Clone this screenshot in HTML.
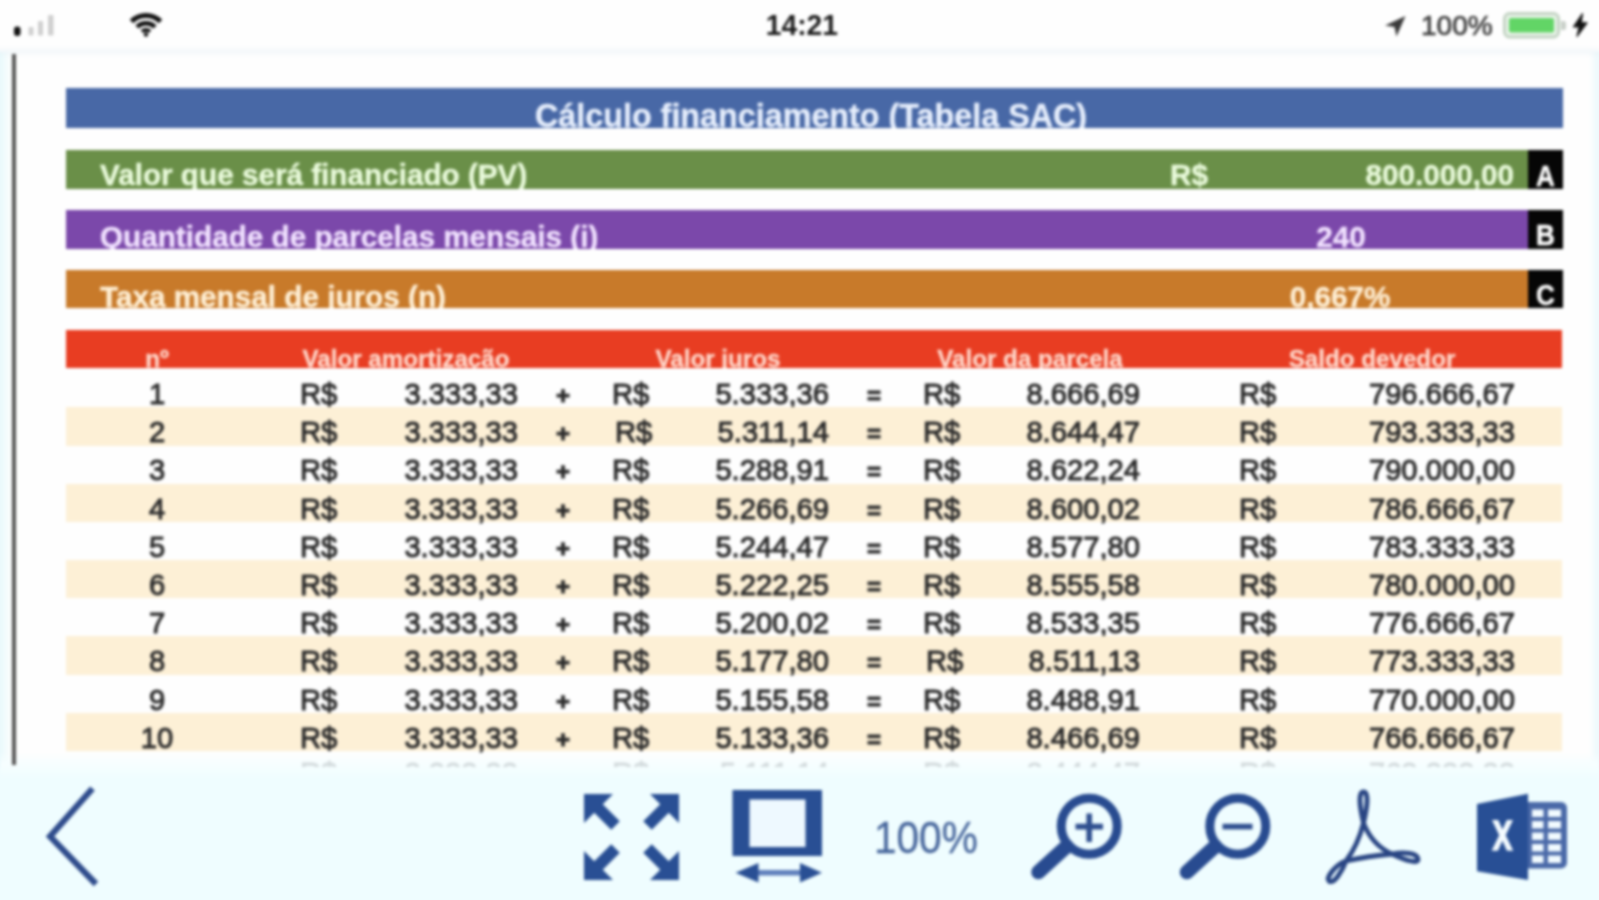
<!DOCTYPE html>
<html lang="pt-BR">
<head>
<meta charset="utf-8">
<title>Cálculo financiamento (Tabela SAC)</title>
<style>
html,body{margin:0;padding:0;}
body{width:1599px;height:900px;overflow:hidden;background:#effdff;font-family:"Liberation Sans",sans-serif;position:relative;}
#stage{position:absolute;left:-20px;top:-20px;width:1639px;height:940px;background:#effdff;filter:blur(1.7px);}
#app{position:absolute;left:20px;top:20px;width:1599px;height:900px;}
.abs{position:absolute;}
/* white sheet area */
#sheet{position:absolute;left:-20px;top:0;width:1639px;height:768px;background:#fefefe;}
#lstrip{position:absolute;left:-20px;top:52px;width:33px;height:716px;background:linear-gradient(to right,#e9f9fc 0,#e9f9fc 20px,#fefefe 32px);}
#rstrip{position:absolute;left:1589px;top:52px;width:30px;height:716px;background:linear-gradient(to right,#fefefe 0,#eef9fc 8px,#ecf9fc 30px);}
#sband{position:absolute;left:-20px;top:45px;width:1639px;height:13px;background:linear-gradient(to bottom,rgba(228,238,244,0),rgba(228,238,244,.38) 50%,rgba(228,238,244,0));}
#statusbg{position:absolute;left:-20px;top:-20px;width:1639px;height:72px;background:#fefefe;}
#vline{position:absolute;left:12px;top:54px;width:4px;height:711px;background:#565656;z-index:4;}
/* status bar */
.st{position:absolute;color:#1a1a1a;font-weight:bold;white-space:nowrap;line-height:1;}
/* coloured bars */
.bar{position:absolute;left:66px;width:1497px;overflow:hidden;color:#f2fbe8;font-weight:bold;font-size:29.7px;-webkit-text-stroke:0.4px currentColor;line-height:1;white-space:nowrap;}
.bar span{position:absolute;white-space:nowrap;}
.tag{position:absolute;right:0;top:0;width:35px;height:100%;background:#060606;}
.tag b{position:absolute;left:0;width:35px;text-align:center;color:#fff;font-size:29px;line-height:1;transform:scaleX(0.9);}
/* table */
#thead{position:absolute;left:66px;top:330px;width:1496px;height:38px;background:#e83d22;overflow:hidden;color:#ffd9cc;font-weight:bold;font-size:24.2px;line-height:1;-webkit-text-stroke:0.3px currentColor;}
#thead span{position:absolute;top:16.5px;white-space:nowrap;transform:translateX(-50%);}
.row{position:absolute;left:66px;width:1496px;height:38.4px;color:#2c2c2c;font-size:29.2px;line-height:1;-webkit-text-stroke:1.0px #2c2c2c;}
.row.alt{background:#fdf0d6;}
.c{position:absolute;top:11px;white-space:nowrap;}
.c.n{left:91px;transform:translateX(-50%);}
.c.op{transform:translateX(-50%);font-size:24px;top:15px;font-weight:bold;}
#toolbar{position:absolute;left:0;top:752px;width:1599px;height:148px;background:linear-gradient(to bottom,rgba(239,253,255,0) 0px,#f6feff 12px,#effdff 26px,#effdff 100%);}
#ghost{position:absolute;left:66px;top:751px;width:1496px;height:15.5px;overflow:hidden;color:#6f767c;font-size:29.2px;line-height:1;opacity:.26;z-index:3;-webkit-text-stroke:0.8px #6f767c;}
#ghost span{position:absolute;top:7.5px;white-space:nowrap;}
</style>
</head>
<body>
<div id="stage"><div id="app">
<div id="sheet"></div>
<div id="lstrip"></div>
<div id="rstrip"></div>
<div id="statusbg"></div>
<div id="sband"></div>
<div id="vline"></div>

<!-- status bar -->
<div class="st" style="left:762.5px;top:9.3px;font-size:30.4px;transform:scaleX(0.93);transform-origin:50% 50%;">14:21</div>
<div class="st" style="left:1421px;top:11.5px;font-size:28px;font-weight:normal;color:#3c3c3c;-webkit-text-stroke:0.7px #3c3c3c;">100%</div>

<!-- title -->
<div class="bar" style="top:88px;height:40px;background:#4868a6;color:#e6eefc;">
  <span style="left:469px;top:11.5px;font-size:32.3px;">Cálculo financiamento (Tabela SAC)</span>
</div>
<!-- A -->
<div class="bar" style="top:150px;height:39px;background:#6a8f48;color:#eafbdc;">
  <span style="left:34px;top:9.8px;">Valor que será financiado (PV)</span>
  <span style="left:1104px;top:9.8px;">R$</span>
  <span style="right:49px;top:9.8px;">800.000,00</span>
  <div class="tag"><b style="top:11.5px;">A</b></div>
</div>
<!-- B -->
<div class="bar" style="top:210px;height:39px;background:#7b48aa;color:#f1e2ff;">
  <span style="left:34px;top:12px;">Quantidade de parcelas mensais (i)</span>
  <span style="left:1275px;top:12px;transform:translateX(-50%);">240</span>
  <div class="tag"><b style="top:11px;">B</b></div>
</div>
<!-- C -->
<div class="bar" style="top:270px;height:38px;background:#c87a2a;color:#fff0d6;">
  <span style="left:34px;top:12px;">Taxa mensal de juros (n)</span>
  <span style="left:1274px;top:12px;transform:translateX(-50%);">0,667%</span>
  <div class="tag"><b style="top:11px;">C</b></div>
</div>

<!-- table header -->
<div id="thead">
  <span style="left:91px;">nº</span>
  <span style="left:340px;">Valor amortização</span>
  <span style="left:652px;">Valor juros</span>
  <span style="left:964px;">Valor da parcela</span>
  <span style="left:1306px;">Saldo devedor</span>
</div>

<div class="row" style="top:369.0px">
<span class="c n">1</span>
<span class="c l" style="left:234px">R$</span><span class="c r" style="right:1044px">3.333,33</span>
<span class="c op" style="left:497px">+</span>
<span class="c l" style="left:546px">R$</span><span class="c r" style="right:733px">5.333,36</span>
<span class="c op" style="left:808px">=</span>
<span class="c l" style="left:857px">R$</span><span class="c r" style="right:422px">8.666,69</span>
<span class="c l" style="left:1173px">R$</span><span class="c r" style="right:47px">796.666,67</span>
</div>
<div class="row alt" style="top:407.2px">
<span class="c n">2</span>
<span class="c l" style="left:234px">R$</span><span class="c r" style="right:1044px">3.333,33</span>
<span class="c op" style="left:497px">+</span>
<span class="c l" style="left:549px">R$</span><span class="c r" style="right:733px">5.311,14</span>
<span class="c op" style="left:808px">=</span>
<span class="c l" style="left:857px">R$</span><span class="c r" style="right:422px">8.644,47</span>
<span class="c l" style="left:1173px">R$</span><span class="c r" style="right:47px">793.333,33</span>
</div>
<div class="row" style="top:445.4px">
<span class="c n">3</span>
<span class="c l" style="left:234px">R$</span><span class="c r" style="right:1044px">3.333,33</span>
<span class="c op" style="left:497px">+</span>
<span class="c l" style="left:546px">R$</span><span class="c r" style="right:733px">5.288,91</span>
<span class="c op" style="left:808px">=</span>
<span class="c l" style="left:857px">R$</span><span class="c r" style="right:422px">8.622,24</span>
<span class="c l" style="left:1173px">R$</span><span class="c r" style="right:47px">790.000,00</span>
</div>
<div class="row alt" style="top:483.6px">
<span class="c n">4</span>
<span class="c l" style="left:234px">R$</span><span class="c r" style="right:1044px">3.333,33</span>
<span class="c op" style="left:497px">+</span>
<span class="c l" style="left:546px">R$</span><span class="c r" style="right:733px">5.266,69</span>
<span class="c op" style="left:808px">=</span>
<span class="c l" style="left:857px">R$</span><span class="c r" style="right:422px">8.600,02</span>
<span class="c l" style="left:1173px">R$</span><span class="c r" style="right:47px">786.666,67</span>
</div>
<div class="row" style="top:521.8px">
<span class="c n">5</span>
<span class="c l" style="left:234px">R$</span><span class="c r" style="right:1044px">3.333,33</span>
<span class="c op" style="left:497px">+</span>
<span class="c l" style="left:546px">R$</span><span class="c r" style="right:733px">5.244,47</span>
<span class="c op" style="left:808px">=</span>
<span class="c l" style="left:857px">R$</span><span class="c r" style="right:422px">8.577,80</span>
<span class="c l" style="left:1173px">R$</span><span class="c r" style="right:47px">783.333,33</span>
</div>
<div class="row alt" style="top:560.0px">
<span class="c n">6</span>
<span class="c l" style="left:234px">R$</span><span class="c r" style="right:1044px">3.333,33</span>
<span class="c op" style="left:497px">+</span>
<span class="c l" style="left:546px">R$</span><span class="c r" style="right:733px">5.222,25</span>
<span class="c op" style="left:808px">=</span>
<span class="c l" style="left:857px">R$</span><span class="c r" style="right:422px">8.555,58</span>
<span class="c l" style="left:1173px">R$</span><span class="c r" style="right:47px">780.000,00</span>
</div>
<div class="row" style="top:598.2px">
<span class="c n">7</span>
<span class="c l" style="left:234px">R$</span><span class="c r" style="right:1044px">3.333,33</span>
<span class="c op" style="left:497px">+</span>
<span class="c l" style="left:546px">R$</span><span class="c r" style="right:733px">5.200,02</span>
<span class="c op" style="left:808px">=</span>
<span class="c l" style="left:857px">R$</span><span class="c r" style="right:422px">8.533,35</span>
<span class="c l" style="left:1173px">R$</span><span class="c r" style="right:47px">776.666,67</span>
</div>
<div class="row alt" style="top:636.4px">
<span class="c n">8</span>
<span class="c l" style="left:234px">R$</span><span class="c r" style="right:1044px">3.333,33</span>
<span class="c op" style="left:497px">+</span>
<span class="c l" style="left:546px">R$</span><span class="c r" style="right:733px">5.177,80</span>
<span class="c op" style="left:808px">=</span>
<span class="c l" style="left:860px">R$</span><span class="c r" style="right:422px">8.511,13</span>
<span class="c l" style="left:1173px">R$</span><span class="c r" style="right:47px">773.333,33</span>
</div>
<div class="row" style="top:674.6px">
<span class="c n">9</span>
<span class="c l" style="left:234px">R$</span><span class="c r" style="right:1044px">3.333,33</span>
<span class="c op" style="left:497px">+</span>
<span class="c l" style="left:546px">R$</span><span class="c r" style="right:733px">5.155,58</span>
<span class="c op" style="left:808px">=</span>
<span class="c l" style="left:857px">R$</span><span class="c r" style="right:422px">8.488,91</span>
<span class="c l" style="left:1173px">R$</span><span class="c r" style="right:47px">770.000,00</span>
</div>
<div class="row alt" style="top:712.8px">
<span class="c n">10</span>
<span class="c l" style="left:234px">R$</span><span class="c r" style="right:1044px">3.333,33</span>
<span class="c op" style="left:497px">+</span>
<span class="c l" style="left:546px">R$</span><span class="c r" style="right:733px">5.133,36</span>
<span class="c op" style="left:808px">=</span>
<span class="c l" style="left:857px">R$</span><span class="c r" style="right:422px">8.466,69</span>
<span class="c l" style="left:1173px">R$</span><span class="c r" style="right:47px">766.666,67</span>
</div>

<div id="ghost">
<span style="left:234px">R$</span><span style="right:1044px">3.333,33</span>
<span style="left:546px">R$</span><span style="right:733px">5.111,14</span>
<span style="left:857px">R$</span><span style="right:422px">8.444,47</span>
<span style="left:1173px">R$</span><span style="right:47px">763.333,33</span>
</div>
<div id="toolbar"></div>
<svg class="abs" style="left:0;top:0;" width="1599" height="900" viewBox="0 0 1599 900">
  <!-- ===== status bar ===== -->
  <g id="signal">
    <rect x="14" y="26.5" width="6.5" height="9.5" rx="3" fill="#111"/>
    <rect x="28.5" y="27" width="5" height="8.5" rx="1" fill="#cfcfcf"/>
    <rect x="38" y="21" width="5" height="14.5" rx="1" fill="#cfcfcf"/>
    <rect x="48" y="15" width="5.5" height="20.5" rx="1" fill="#cfcfcf"/>
  </g>
  <g id="wifi" fill="none" stroke="#111" stroke-linecap="butt">
    <path d="M131.5,21.5 A20.5,20.5 0 0 1 160.5,21.5" stroke-width="5"/>
    <path d="M137,27 A12.7,12.7 0 0 1 155,27" stroke-width="4.6"/>
    <path d="M142,31.6 A5.8,5.8 0 0 1 150,31.6" stroke-width="4"/>
    <circle cx="146" cy="34.6" r="2.2" fill="#111" stroke="none"/>
  </g>
  <path id="loc" d="M1405.5,16 L1385,25.5 L1394.5,27 L1396.5,36.5 Z" fill="#3a3a3a"/>
  <g id="battery">
    <rect x="1504.5" y="13.5" width="54" height="23.5" rx="5" fill="#e9f3e9" stroke="#c3d3c3" stroke-width="3"/>
    <rect x="1509" y="18" width="45" height="14.5" rx="2" fill="#62d566"/>
    <path d="M1561,21 h2.5 a2.5,2.5 0 0 1 2.5,2.5 v4 a2.5,2.5 0 0 1 -2.5,2.5 h-2.5 z" fill="#c8cfc8"/>
    <path d="M1582.5,13.5 L1573.5,26.8 L1579.2,26.8 L1577,36.5 L1587,22.8 L1581.2,22.8 Z" fill="#111" stroke="#111" stroke-width="1.2" stroke-linejoin="round"/>
  </g>

  <!-- ===== toolbar ===== -->
  <!-- back chevron -->
  <path d="M92.5,788.5 L50,836.5 L96,884" fill="none" stroke="#2f4c8c" stroke-width="6.2" stroke-linejoin="miter"/>

  <!-- expand (4 arrows) -->
  <g id="expand" fill="#294f94" stroke="#294f94">
    <g transform="translate(584,794)">
      <path d="M0,0 H29 L0,29 Z" stroke="none"/><path d="M12,12 L31.5,31.5" stroke-width="12" fill="none"/>
    </g>
    <g transform="translate(679,794) scale(-1,1)">
      <path d="M0,0 H29 L0,29 Z" stroke="none"/><path d="M12,12 L31.5,31.5" stroke-width="12" fill="none"/>
    </g>
    <g transform="translate(584,880) scale(1,-1)">
      <path d="M0,0 H29 L0,29 Z" stroke="none"/><path d="M12,12 L31.5,31.5" stroke-width="12" fill="none"/>
    </g>
    <g transform="translate(679,880) scale(-1,-1)">
      <path d="M0,0 H29 L0,29 Z" stroke="none"/><path d="M12,12 L31.5,31.5" stroke-width="12" fill="none"/>
    </g>
  </g>

  <!-- fit width -->
  <g id="fitw">
    <rect x="732.5" y="790" width="89.5" height="66" fill="#294f94"/>
    <rect x="749.5" y="799.5" width="56" height="47.5" fill="#eef9ff"/>
    <path d="M757,872.7 H801" stroke="#5f7fbc" stroke-width="5.5" fill="none"/>
    <path d="M735.5,872.7 L758.5,863 V882.4 Z" fill="#294f94"/>
    <path d="M822,872.7 L800,863 V882.4 Z" fill="#294f94"/>
  </g>

  <!-- zoom in -->
  <g id="zin" fill="none" stroke="#284b90" stroke-linecap="round">
    <circle cx="1089.2" cy="826.2" r="28" stroke-width="9"/>
    <path d="M1066.5,846.5 L1038.5,872" stroke-width="14.5"/>
    <path d="M1075.5,826.6 H1103 M1089.2,813.5 V842" stroke-width="5.6" stroke-linecap="butt" stroke="#2f4f8f"/>
  </g>
  <!-- zoom out -->
  <g id="zout" fill="none" stroke="#284b90" stroke-linecap="round">
    <circle cx="1237.8" cy="826.2" r="28" stroke-width="9"/>
    <path d="M1215,846.5 L1187,872" stroke-width="14.5"/>
    <path d="M1222.5,826.6 H1252.5" stroke-width="5.6" stroke-linecap="butt" stroke="#2f4f8f"/>
  </g>

  <!-- pdf -->
  <path id="pdf" fill="none" stroke="#294583" stroke-width="4.8" stroke-linejoin="round"
    d="M1346,861 Q1358,845 1363.5,823 C1367.5,806 1369,792 1363.5,792 C1358,792 1359.5,806 1363.5,823
       Q1372,845 1392,854 C1407,861 1418.5,864 1418,859 C1417.5,853 1404,851.5 1392,854
       Q1368,856 1346,861 C1335,865 1325.5,878 1329,881 C1333.5,884.5 1342,872 1346,861 Z"/>

  <!-- excel -->
  <g id="xls">
    <path d="M1527,802 H1561 a6,6 0 0 1 6,6 V862.5 a6,6 0 0 1 -6,6 H1527 Z" fill="#4a69a8"/>
    <g fill="#f2fbff">
      <rect x="1532" y="809.5" width="11.5" height="7.5"/><rect x="1548" y="809.5" width="13" height="7.5"/>
      <rect x="1532" y="821" width="11.5" height="7.5"/><rect x="1548" y="821" width="13" height="7.5"/>
      <rect x="1532" y="832.5" width="11.5" height="7.5"/><rect x="1548" y="832.5" width="13" height="7.5"/>
      <rect x="1532" y="844" width="11.5" height="7.5"/><rect x="1548" y="844" width="13" height="7.5"/>
      <rect x="1532" y="855.5" width="11.5" height="7.5"/><rect x="1548" y="855.5" width="13" height="7.5"/>
    </g>
    <path d="M1477,804 L1528,793.7 V880 L1477,871.3 Z" fill="#284f95"/>
    <path d="M1492,820 h6.2 l4.3,9.6 l4.3,-9.6 h6.2 l-7.3,15.2 l7.6,15.6 h-6.4 l-4.5,-10 l-4.5,10 h-6.3 l7.6,-15.6 Z" fill="#f4fbff"/>
  </g>
</svg>
<div class="abs" style="left:873.5px;top:815.5px;font-size:44px;line-height:1;color:#46659b;-webkit-text-stroke:0.3px #46659b;white-space:nowrap;transform-origin:0 0;transform:scaleX(0.922);letter-spacing:0;">100%</div>

</div></div>
</body>
</html>
